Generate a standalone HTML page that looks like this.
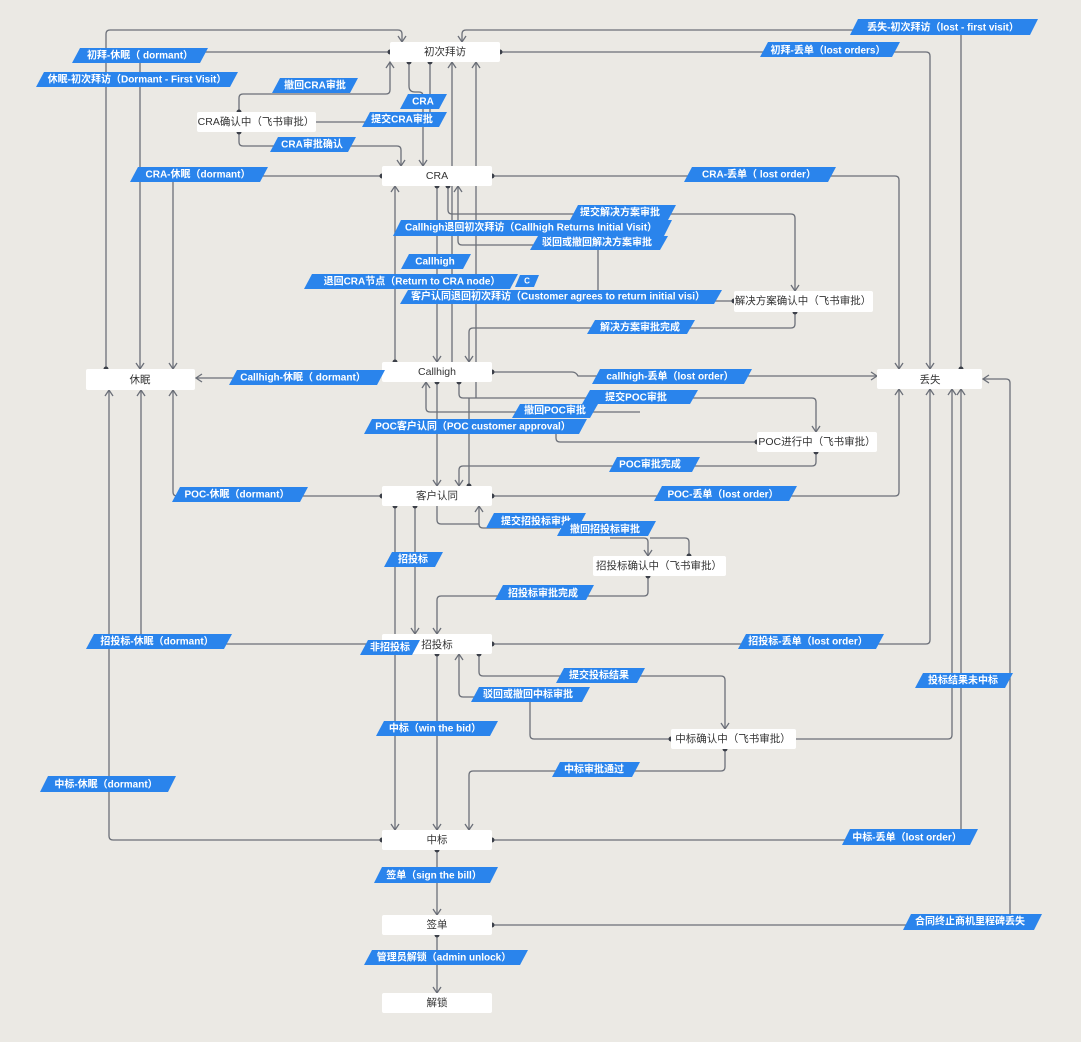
<!DOCTYPE html>
<html><head><meta charset="utf-8">
<style>
html,body{margin:0;padding:0;background:#ebe9e4;}
svg{display:block;}
.n{fill:#fff;}
.nt{font-family:"Liberation Sans","Noto Sans CJK SC",sans-serif;font-size:10.5px;fill:#333;text-anchor:middle;dominant-baseline:central;}
.l{fill:#2a84ec;}
.lt{font-family:"Liberation Sans","Noto Sans CJK SC",sans-serif;font-size:10px;font-weight:bold;fill:#fff;text-anchor:middle;dominant-baseline:central;}
.e{fill:none;stroke:#6b6f78;stroke-width:1.3;}
</style></head><body>
<svg width="1081" height="1042" viewBox="0 0 1081 1042" xmlns="http://www.w3.org/2000/svg">
<defs>
<marker id="a" markerWidth="10" markerHeight="10" refX="7" refY="5" orient="auto" markerUnits="userSpaceOnUse"><path d="M1,1 L7,5 L1,9" fill="none" stroke="#6b6f78" stroke-width="1.3"/></marker>
<marker id="d" markerWidth="6" markerHeight="6" refX="3" refY="3" markerUnits="userSpaceOnUse"><circle cx="3" cy="3" r="2.5" fill="#3b3f48"/></marker>
</defs>
<g class="e">
<path d="M106,369 V34 Q106,30 110,30 H398 Q402,30 402,34 V42" marker-start="url(#d)" marker-end="url(#a)"/>
<path d="M390,52 H140 V369" marker-start="url(#d)" marker-end="url(#a)"/>
<path d="M500,52 H926 Q930,52 930,56 V369" marker-start="url(#d)" marker-end="url(#a)"/>
<path d="M961,369 V30 H466 Q462,30 462,34 V42" marker-start="url(#d)" marker-end="url(#a)"/>
<path d="M239,112 V98 Q239,94 243,94 H386 Q390,94 390,90 V62" marker-start="url(#d)" marker-end="url(#a)"/>
<path d="M409,62 V86 Q409,92 415,92 H419 Q423,92 423,96 V166" marker-start="url(#d)" marker-end="url(#a)"/>
<path d="M430,62 V122 H316" marker-start="url(#d)"/>
<path d="M239,132 V142 Q239,146 243,146 H397 Q401,146 401,150 V166" marker-start="url(#d)" marker-end="url(#a)"/>
<path d="M382,176 H173 V369" marker-start="url(#d)" marker-end="url(#a)"/>
<path d="M492,176 H895 Q899,176 899,180 V369" marker-start="url(#d)" marker-end="url(#a)"/>
<path d="M452,362 V62" marker-end="url(#a)"/>
<path d="M476,398 V62" marker-end="url(#a)"/>
<path d="M437,186 V362" marker-start="url(#d)" marker-end="url(#a)"/>
<path d="M395,362 V186" marker-start="url(#d)" marker-end="url(#a)"/>
<path d="M448,186 V210 Q448,214 452,214 H791 Q795,214 795,218 V291" marker-start="url(#d)" marker-end="url(#a)"/>
<path d="M598,290 V245 H462 Q458,245 458,241 V186" marker-end="url(#a)"/>
<path d="M700,301 H734" marker-end="url(#d)"/>
<path d="M795,312 V324 Q795,328 791,328 H473 Q469,328 469,332 V362" marker-start="url(#d)" marker-end="url(#a)"/>
<path d="M380,378 H196" marker-end="url(#a)"/>
<path d="M492,372 H572 Q576,372 578,376 H877" marker-start="url(#d)" marker-end="url(#a)"/>
<path d="M437,382 V486" marker-start="url(#d)" marker-end="url(#a)"/>
<path d="M459,382 V394 Q459,398 463,398 H812 Q816,398 816,402 V432" marker-start="url(#d)" marker-end="url(#a)"/>
<path d="M640,412 H430 Q426,412 426,408 V382" marker-end="url(#a)"/>
<path d="M757,442 H560 Q556,442 556,438 V428"  marker-start="url(#d)"/>
<path d="M469,486 V398" marker-start="url(#d)"/>
<path d="M816,452 V462 Q816,466 812,466 H463 Q459,466 459,470 V486" marker-start="url(#d)" marker-end="url(#a)"/>
<path d="M382,496 H177 Q173,496 173,492 V390" marker-start="url(#d)" marker-end="url(#a)"/>
<path d="M492,496 H895 Q899,496 899,492 V389" marker-start="url(#d)" marker-end="url(#a)"/>
<path d="M437,506 V520 Q437,524 441,524 H479 V506" marker-end="url(#a)"/>
<path d="M479,524 Q479,528 483,528 H560"/>
<path d="M610,538 H644 Q648,538 648,542 V556" marker-end="url(#a)"/>
<path d="M689,556 V542 Q689,538 685,538 H650" marker-start="url(#d)"/>
<path d="M648,576 V592 Q648,596 644,596 H441 Q437,596 437,600 V634" marker-start="url(#d)" marker-end="url(#a)"/>
<path d="M415,506 V634" marker-start="url(#d)" marker-end="url(#a)"/>
<path d="M395,506 V830" marker-start="url(#d)" marker-end="url(#a)"/>
<path d="M382,644 H141 V390" marker-start="url(#d)" marker-end="url(#a)"/>
<path d="M492,644 H926 Q930,644 930,640 V389" marker-start="url(#d)" marker-end="url(#a)"/>
<path d="M479,654 V672 Q479,676 483,676 H721 Q725,676 725,680 V729" marker-start="url(#d)" marker-end="url(#a)"/>
<path d="M671,739 H534 Q530,739 530,735 V697 H463 Q459,697 459,693 V654" marker-start="url(#d)" marker-end="url(#a)"/>
<path d="M437,654 V830" marker-start="url(#d)" marker-end="url(#a)"/>
<path d="M725,749 V767 Q725,771 721,771 H473 Q469,771 469,775 V830" marker-start="url(#d)" marker-end="url(#a)"/>
<path d="M796,739 H948 Q952,739 952,735 V389" marker-end="url(#a)"/>
<path d="M382,840 H113 Q109,840 109,836 V390" marker-start="url(#d)" marker-end="url(#a)"/>
<path d="M492,840 H957 Q961,840 961,836 V389" marker-start="url(#d)" marker-end="url(#a)"/>
<path d="M437,850 V915" marker-start="url(#d)" marker-end="url(#a)"/>
<path d="M492,925 H1010 V383 Q1010,379 1006,379 H983" marker-start="url(#d)" marker-end="url(#a)"/>
<path d="M437,935 V993" marker-start="url(#d)" marker-end="url(#a)"/>
</g>

<rect class="n" x="390" y="42" width="110" height="20" rx="2"/><text class="nt" x="445" y="52">初次拜访</text>
<rect class="n" x="197" y="112" width="119" height="20" rx="2"/><text class="nt" x="256" y="122">CRA确认中（飞书审批）</text>
<rect class="n" x="382" y="166" width="110" height="20" rx="2"/><text class="nt" x="437" y="176">CRA</text>
<rect class="n" x="734" y="291" width="139" height="21" rx="2"/><text class="nt" x="803" y="301">解决方案确认中（飞书审批）</text>
<rect class="n" x="86" y="369" width="109" height="21" rx="2"/><text class="nt" x="140" y="380">休眠</text>
<rect class="n" x="382" y="362" width="110" height="20" rx="2"/><text class="nt" x="437" y="372">Callhigh</text>
<rect class="n" x="877" y="369" width="105" height="20" rx="2"/><text class="nt" x="930" y="380">丢失</text>
<rect class="n" x="757" y="432" width="120" height="20" rx="2"/><text class="nt" x="817" y="442">POC进行中（飞书审批）</text>
<rect class="n" x="382" y="486" width="110" height="20" rx="2"/><text class="nt" x="437" y="496">客户认同</text>
<rect class="n" x="593" y="556" width="133" height="20" rx="2"/><text class="nt" x="659" y="566">招投标确认中（飞书审批）</text>
<rect class="n" x="382" y="634" width="110" height="20" rx="2"/><text class="nt" x="437" y="645">招投标</text>
<rect class="n" x="671" y="729" width="125" height="20" rx="2"/><text class="nt" x="733" y="739">中标确认中（飞书审批）</text>
<rect class="n" x="382" y="830" width="110" height="20" rx="2"/><text class="nt" x="437" y="840">中标</text>
<rect class="n" x="382" y="915" width="110" height="20" rx="2"/><text class="nt" x="437" y="925">签单</text>
<rect class="n" x="382" y="993" width="110" height="20" rx="2"/><text class="nt" x="437" y="1003">解锁</text>

<g>
<polygon class="l" points="80,48 208,48 200,63 72,63"/><text class="lt" x="140" y="56">初拜-休眠（ dormant）</text>
<polygon class="l" points="44,72 238,72 230,87 36,87"/><text class="lt" x="137" y="80">休眠-初次拜访（Dormant - First Visit）</text>
<polygon class="l" points="280,78 358,78 350,93 272,93"/><text class="lt" x="315" y="86">撤回CRA审批</text>
<polygon class="l" points="408,94 447,94 439,109 400,109"/><text class="lt" x="423" y="102">CRA</text>
<polygon class="l" points="370,112 447,112 439,127 362,127"/><text class="lt" x="402" y="120">提交CRA审批</text>
<polygon class="l" points="278,137 356,137 348,152 270,152"/><text class="lt" x="312" y="145">CRA审批确认</text>
<polygon class="l" points="138,167 268,167 260,182 130,182"/><text class="lt" x="198" y="175">CRA-休眠（dormant）</text>
<polygon class="l" points="692,167 836,167 828,182 684,182"/><text class="lt" x="759" y="175">CRA-丢单（ lost order）</text>
<polygon class="l" points="858,19 1038,19 1030,35 850,35"/><text class="lt" x="943" y="28">丢失-初次拜访（lost - first visit）</text>
<polygon class="l" points="768,42 900,42 892,57 760,57"/><text class="lt" x="828" y="51">初拜-丢单（lost orders）</text>
<polygon class="l" points="578,205 676,205 668,220 570,220"/><text class="lt" x="620" y="213">提交解决方案审批</text>
<polygon class="l" points="401,220 672,220 664,236 393,236"/><text class="lt" x="531" y="228">Callhigh退回初次拜访（Callhigh Returns Initial Visit）</text>
<polygon class="l" points="538,236 668,236 660,250 530,250"/><text class="lt" x="597" y="243">驳回或撤回解决方案审批</text>
<polygon class="l" points="409,254 471,254 463,269 401,269"/><text class="lt" x="435" y="262">Callhigh</text>
<polygon class="l" points="312,274 518,274 510,289 304,289"/><text class="lt" x="412" y="282">退回CRA节点（Return to CRA node）</text>
<polygon class="l" points="520,275 539,275 534,287 515,287"/><text class="lt" x="527" y="281" style="font-size:8px">C</text>
<polygon class="l" points="408,290 722,290 714,304 400,304"/><text class="lt" x="558" y="297">客户认同退回初次拜访（Customer agrees to return initial visi）</text>
<polygon class="l" points="595,320 695,320 687,334 587,334"/><text class="lt" x="640" y="328">解决方案审批完成</text>
<polygon class="l" points="237,370 385,370 377,385 229,385"/><text class="lt" x="303" y="378">Callhigh-休眠（ dormant）</text>
<polygon class="l" points="600,369 752,369 744,384 592,384"/><text class="lt" x="670" y="377">callhigh-丢单（lost order）</text>
<polygon class="l" points="590,390 698,390 690,404 582,404"/><text class="lt" x="636" y="398">提交POC审批</text>
<polygon class="l" points="520,404 598,404 590,418 512,418"/><text class="lt" x="555" y="411">撤回POC审批</text>
<polygon class="l" points="372,419 587,419 579,434 364,434"/><text class="lt" x="473" y="427">POC客户认同（POC customer approval）</text>
<polygon class="l" points="617,457 700,457 692,472 609,472"/><text class="lt" x="650" y="465">POC审批完成</text>
<polygon class="l" points="180,487 308,487 300,502 172,502"/><text class="lt" x="237" y="495">POC-休眠（dormant）</text>
<polygon class="l" points="662,486 797,486 789,501 654,501"/><text class="lt" x="723" y="495">POC-丢单（lost order）</text>
<polygon class="l" points="494,513 586,513 578,528 486,528"/><text class="lt" x="536" y="522">提交招投标审批</text>
<polygon class="l" points="565,521 656,521 648,536 557,536"/><text class="lt" x="605" y="530">撤回招投标审批</text>
<polygon class="l" points="392,552 443,552 435,567 384,567"/><text class="lt" x="413" y="560">招投标</text>
<polygon class="l" points="503,585 594,585 586,600 495,600"/><text class="lt" x="543" y="594">招投标审批完成</text>
<polygon class="l" points="94,634 232,634 224,649 86,649"/><text class="lt" x="157" y="642">招投标-休眠（dormant）</text>
<polygon class="l" points="368,640 420,640 412,655 360,655"/><text class="lt" x="390" y="648">非招投标</text>
<polygon class="l" points="746,634 884,634 876,649 738,649"/><text class="lt" x="808" y="642">招投标-丢单（lost order）</text>
<polygon class="l" points="564,668 645,668 637,683 556,683"/><text class="lt" x="599" y="676">提交投标结果</text>
<polygon class="l" points="479,687 590,687 582,702 471,702"/><text class="lt" x="528" y="695">驳回或撤回中标审批</text>
<polygon class="l" points="923,673 1013,673 1005,688 915,688"/><text class="lt" x="963" y="681">投标结果未中标</text>
<polygon class="l" points="384,721 498,721 490,736 376,736"/><text class="lt" x="435" y="729">中标（win the bid）</text>
<polygon class="l" points="560,762 640,762 632,777 552,777"/><text class="lt" x="594" y="770">中标审批通过</text>
<polygon class="l" points="48,776 176,776 168,792 40,792"/><text class="lt" x="106" y="785">中标-休眠（dormant）</text>
<polygon class="l" points="850,829 978,829 970,845 842,845"/><text class="lt" x="907" y="838">中标-丢单（lost order）</text>
<polygon class="l" points="382,867 498,867 490,883 374,883"/><text class="lt" x="434" y="876">签单（sign the bill）</text>
<polygon class="l" points="911,914 1042,914 1034,930 903,930"/><text class="lt" x="970" y="922">合同终止商机里程碑丢失</text>
<polygon class="l" points="372,950 528,950 520,965 364,965"/><text class="lt" x="444" y="958">管理员解锁（admin unlock）</text>
</g>
</svg>
</body></html>
